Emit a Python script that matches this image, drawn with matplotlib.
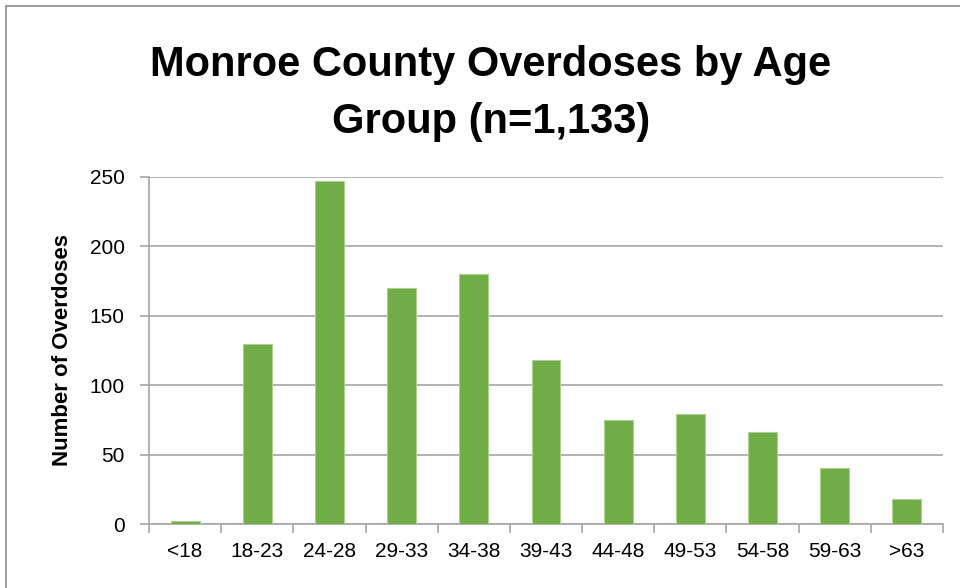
import numpy as np
from matplotlib import pyplot as plt
from matplotlib.patches import Rectangle

# Werte
age_groups = ['<18', '18-23', '24-28', '29-33', '34-38', '39-43',
              '44-48', '49-53', '54-58', '59-63', '>63']
overdoses = [2, 130, 247, 170, 180, 118, 75, 79, 66, 40, 18]
y_ticks = [0, 50, 100, 150, 200, 250]

plt.rcParams['font.family'] = ['Liberation Sans', 'DejaVu Sans']

fig = plt.figure(figsize=(9.6, 5.88), dpi=100)
ax = fig.add_axes([149 / 960, 64 / 588, 794 / 960, 347 / 588])

x = np.arange(len(age_groups))
ax.bar(x, overdoses, width=0.4, color='#70AD47', edgecolor='#A9D18E', linewidth=0.8, zorder=3)

ax.set_xlim(-0.5, len(age_groups) - 0.5)
ax.set_ylim(0, 250)
ax.set_yticks(y_ticks)
ax.set_yticklabels([str(v) for v in y_ticks], fontsize=15)
ax.grid(axis='y', color='#A6A6A6', linewidth=1.2, zorder=0)

# Striche zwischen den Kategorien, Beschriftung in der Mitte
ax.set_xticks(np.arange(len(age_groups) + 1) - 0.5)
ax.set_xticklabels([])
ax.set_xticks(x, minor=True)
ax.set_xticklabels(age_groups, minor=True, fontsize=15)
ax.tick_params(axis='x', which='major', length=6.5, color='#A6A6A6', width=1.2)
ax.tick_params(axis='x', which='minor', length=0, pad=13)
ax.tick_params(axis='y', length=6.5, color='#A6A6A6', width=1.2, pad=11)

for side in ['top', 'right']:
    ax.spines[side].set_visible(False)
for side in ['left', 'bottom']:
    ax.spines[side].set_color('#A6A6A6')
    ax.spines[side].set_linewidth(1.2)

ax.set_ylabel('Number of Overdoses', fontsize=16, fontweight='bold', labelpad=12)

# Titel in zwei Zeilen
fig.text(491 / 960, 1 - 76 / 588, 'Monroe County Overdoses by Age',
         ha='center', va='baseline', fontsize=30, fontweight='bold')
fig.text(491 / 960, 1 - 133 / 588, 'Group (n=1,133)',
         ha='center', va='baseline', fontsize=30, fontweight='bold')

# Rahmen um das Diagramm
fig.patches.append(Rectangle((6 / 960, -0.1), 1.1, 1.1 - 6 / 588, transform=fig.transFigure,
                             fill=False, edgecolor='#8C8C8C', linewidth=1.2))

fig.savefig('out.png', dpi=100)
